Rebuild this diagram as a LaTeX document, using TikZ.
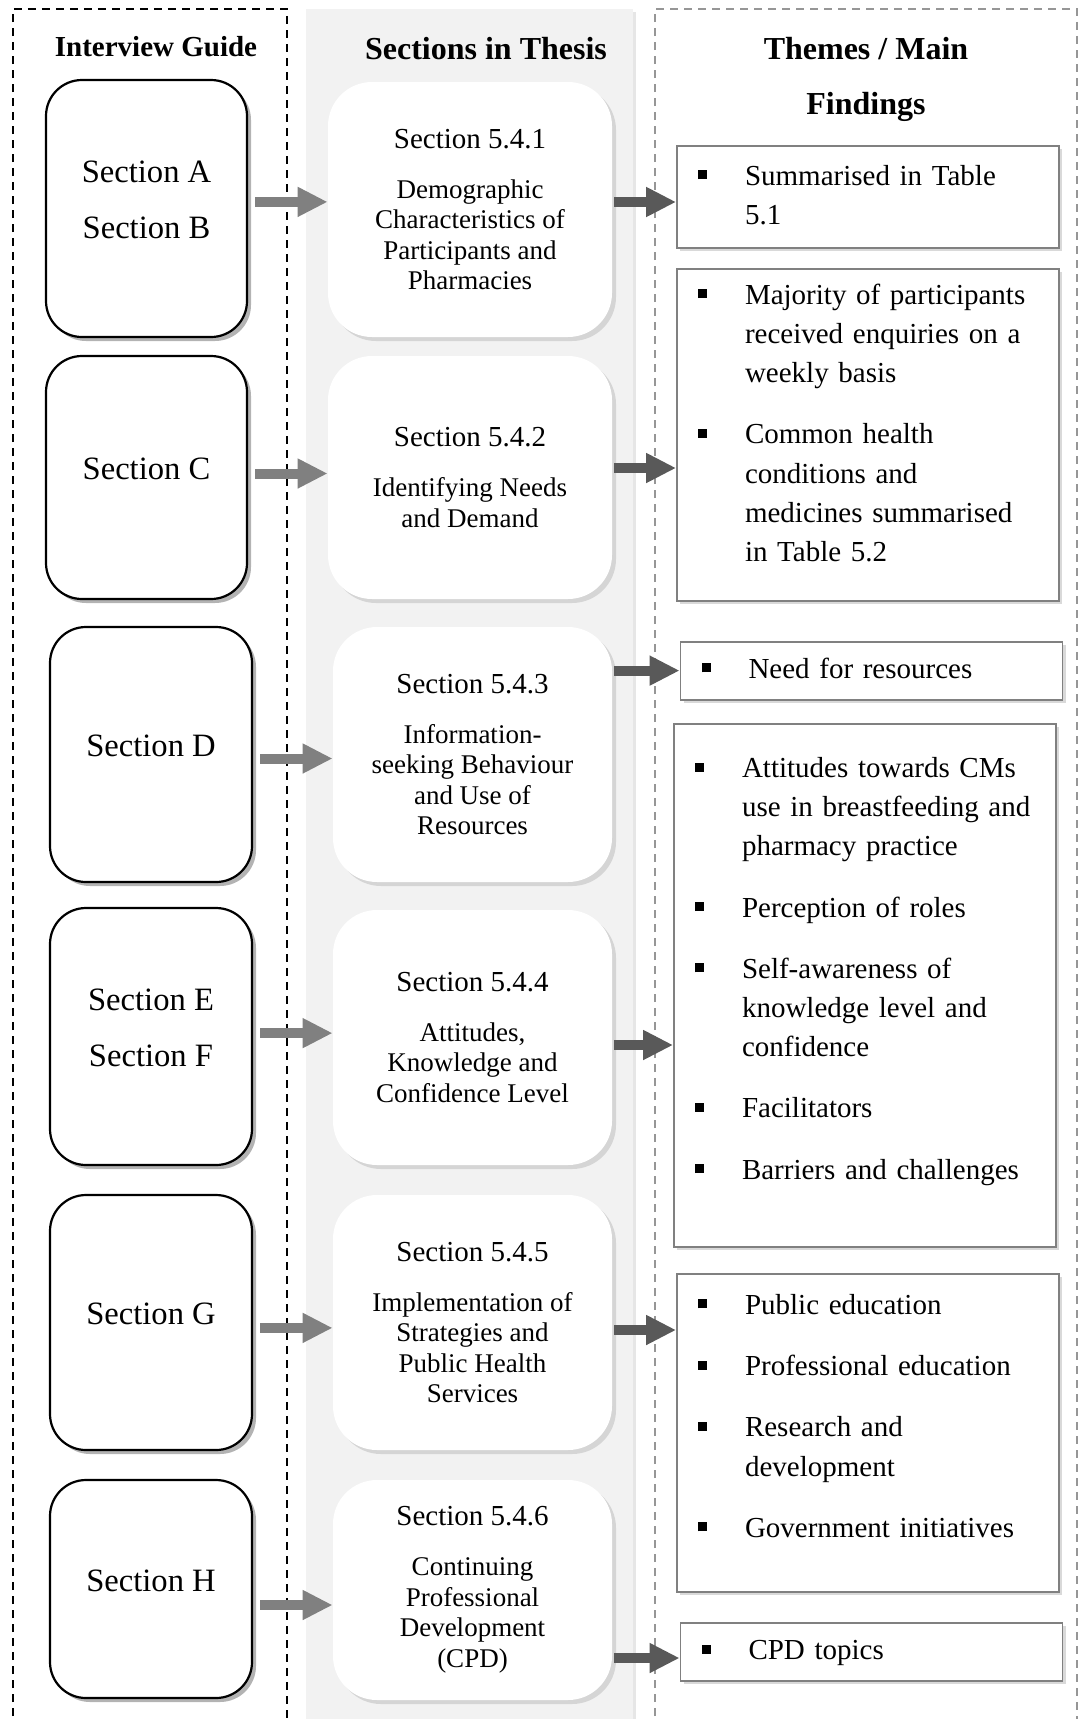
\documentclass[tikz,border=0pt]{standalone}
\usepackage{fontspec}
\setmainfont{Liberation Serif}
\usepackage{tikz}
\usetikzlibrary{arrows.meta, positioning, shadows}

\definecolor{colfill}{RGB}{242,242,242}
\definecolor{arrlight}{RGB}{128,128,128}
\definecolor{arrdark}{RGB}{89,89,89}
\definecolor{boxline}{RGB}{128,128,128}
\definecolor{dashgray}{RGB}{150,150,150}

\newcommand{\bul}{\rule[3pt]{4.5pt}{4.5pt}}
\newcommand{\sectitle}{\fontsize{14.5}{17}\selectfont}
\newcommand{\up}[1]{\raisebox{4.5pt}[\height][\depth]{\begin{tabular}{@{}c@{}}#1\end{tabular}}}

\begin{document}
\begin{tikzpicture}[
    x=0.5pt, y=-0.5pt,
    guide/.style={draw=black, line width=1.1pt, rounded corners=18pt, fill=white,
      align=center, font=\fontsize{16.3}{28}\selectfont,
      drop shadow={shadow xshift=2pt, shadow yshift=-2pt, opacity=0.6}},
    thesis/.style={fill=white, rounded corners=22pt, align=center,
      font=\fontsize{13.5}{15.25}\selectfont,
      drop shadow={shadow xshift=2pt, shadow yshift=-2pt, opacity=0.25}},
    theme/.style={draw=boxline, line width=0.9pt, fill=white, align=left,
      text width=170pt, inner xsep=10.5pt, inner ysep=0pt,
      font=\fontsize{14.5}{19.6}\selectfont,
      drop shadow={shadow xshift=1.5pt, shadow yshift=-1.5pt, opacity=0.3}},
    head/.style={font=\bfseries\fontsize{16}{27.5}\selectfont, align=center},
    arrlt/.style={arrlight, line width=5pt, -{Triangle[length=15pt, width=14pt]}},
    arrdk/.style={arrdark, line width=5pt, -{Triangle[length=15pt, width=14pt]}},
]
  \useasboundingbox (0,0) rectangle (1078,1719);

  % Columns
  \draw[black, line width=0.8pt, dash pattern=on 4pt off 3pt] (13,1730) -- (13,9) -- (287,9) -- (287,1730);
  \fill[colfill, drop shadow={shadow xshift=1.5pt, shadow yshift=-1.5pt, opacity=0.2}] (306,9) rectangle (633,1740);
  \draw[dashgray, line width=0.8pt, dash pattern=on 4pt off 3pt] (655,1730) -- (655,9) -- (1077,9) -- (1077,1730);

  % Headers
  \node[head, font=\bfseries\fontsize{14.5}{17}\selectfont] (hguide) at (156,47) {Interview Guide};
  \node[head] (hthesis) at (486,49) {Sections in Thesis};
  \node[head] (hthemes) at (866,79) {Themes / Main\\Findings};

  % Interview guide
  \node[guide, minimum width=100.5pt, minimum height=128.5pt] (l1) at (146.5,208.5) {\up{Section A\\Section B}};
  \node[guide, minimum width=100.5pt, minimum height=121.5pt] (l2) at (146.5,477.5) {\up{Section C}};
  \node[guide, minimum width=101pt, minimum height=127.5pt] (l3) at (151,754.5) {\up{Section D}};
  \node[guide, minimum width=101pt, minimum height=128.5pt] (l4) at (151,1036.5) {\up{Section E\\Section F}};
  \node[guide, minimum width=101pt, minimum height=127.5pt] (l5) at (151,1322.5) {\up{Section G}};
  \node[guide, minimum width=101pt, minimum height=109pt] (l6) at (151,1589) {\up{Section H}};

  % Sections in thesis
  \node[thesis, minimum width=142pt, minimum height=127.5pt] (m1) at (470,209.5)
    {{\sectitle Section 5.4.1}\\[9.75pt]Demographic\\Characteristics of\\Participants and\\Pharmacies};
  \node[thesis, minimum width=142pt, minimum height=121.5pt] (m2) at (470,477.5)
    {{\sectitle Section 5.4.2}\\[9.75pt]Identifying Needs\\and Demand};
  \node[thesis, minimum width=139.5pt, minimum height=127.5pt] (m3) at (472.5,754.5)
    {{\sectitle Section 5.4.3}\\[9.75pt]Information-\\seeking Behaviour\\and Use of\\Resources};
  \node[thesis, minimum width=139.5pt, minimum height=127.5pt] (m4) at (472.5,1037.5)
    {{\sectitle Section 5.4.4}\\[9.75pt]Attitudes,\\Knowledge and\\Confidence Level};
  \node[thesis, minimum width=139.5pt, minimum height=127.5pt] (m5) at (472.5,1322.5)
    {{\sectitle Section 5.4.5}\\[9.75pt]Implementation of\\Strategies and\\Public Health\\Services};
  \node[thesis, minimum width=139.5pt, minimum height=110pt] (m6) at (472.5,1590)
    {{\sectitle Section 5.4.6}\\[9.75pt]Continuing\\Professional\\Development\\(CPD)};

  % Themes / main findings
  \node[theme, minimum height=51pt] (r1) at (868,197)
    {\begin{tabular}{@{}p{23.5pt}@{}l@{}}\bul & Summarised in Table\\ & 5.1\end{tabular}};
  \node[theme, minimum height=166pt] (r2) at (868,435)
    {\begin{tabular}{@{}p{23.5pt}@{}l@{}}
      \bul & Majority of participants\\ & received enquiries on a\\ & weekly basis\\[11pt]
      \bul & Common health\\ & conditions and\\ & medicines summarised\\ & in Table 5.2\\[10pt]
    \end{tabular}};
  \node[theme, minimum height=29pt] (r3) at (871.5,670.6)
    {\begin{tabular}{@{}p{23.5pt}@{}l@{}}\bul & Need for resources\end{tabular}};
  \node[theme, minimum height=261.5pt] (r4) at (865,985.5)
    {\begin{tabular}{@{}p{23.5pt}@{}l@{}}
      \bul & Attitudes towards CMs\\ & use in breastfeeding and\\ & pharmacy practice\\[11pt]
      \bul & Perception of roles\\[11pt]
      \bul & Self-awareness of\\ & knowledge level and\\ & confidence\\[11pt]
      \bul & Facilitators\\[11pt]
      \bul & Barriers and challenges\\[15pt]
    \end{tabular}};
  \node[theme, minimum height=159pt] (r5) at (868,1433)
    {\begin{tabular}{@{}p{23.5pt}@{}l@{}}
      \bul & Public education\\[11pt]
      \bul & Professional education\\[11pt]
      \bul & Research and\\ & development\\[11pt]
      \bul & Government initiatives\\[15pt]
    \end{tabular}};
  \node[theme, minimum height=29pt] (r6) at (871.5,1652)
    {\begin{tabular}{@{}p{23.5pt}@{}l@{}}\bul & CPD topics\end{tabular}};

  % Arrows guide -> thesis
  \draw[arrlt, shorten <=3.5pt] ([yshift=3.3pt]l1.east) -- ([yshift=3.3pt]l1.east -| m1.west);
  \draw[arrlt, shorten <=3.5pt] ([yshift=2pt]l2.east) -- ([yshift=2pt]l2.east -| m2.west);
  \draw[arrlt, shorten <=3.5pt] ([yshift=-2pt]l3.east) -- ([yshift=-2pt]l3.east -| m3.west);
  \draw[arrlt, shorten <=3.5pt] ([yshift=1.7pt]l4.east) -- ([yshift=1.7pt]l4.east -| m4.west);
  \draw[arrlt, shorten <=3.5pt] ([yshift=-2.7pt]l5.east) -- ([yshift=-2.7pt]l5.east -| m5.west);
  \draw[arrlt, shorten <=3.5pt] ([yshift=-8pt]l6.east) -- ([yshift=-8pt]l6.east -| m6.west);

  % Arrows thesis -> themes
  \draw[arrdk, shorten <=1pt] ([yshift=3.75pt]m1.east) -- ([yshift=3.75pt]m1.east -| r1.west);
  \draw[arrdk, shorten <=1pt] ([yshift=4.75pt]m2.east) -- ([yshift=4.75pt]m2.east -| r2.west);
  \draw[arrdk, shorten <=1pt] (r3.west -| m3.east) -- (r3.west);
  \draw[arrdk, shorten <=1pt] ([yshift=-3.75pt]m4.east) -- ([yshift=-3.75pt]m4.east -| r4.west);
  \draw[arrdk, shorten <=1pt] ([yshift=-3.75pt]m5.east) -- ([yshift=-3.75pt]m5.east -| r5.west);
  \draw[arrdk, shorten <=1pt] ([yshift=-3pt]r6.west -| m6.east) -- ([yshift=-3pt]r6.west);
\end{tikzpicture}
\end{document}
